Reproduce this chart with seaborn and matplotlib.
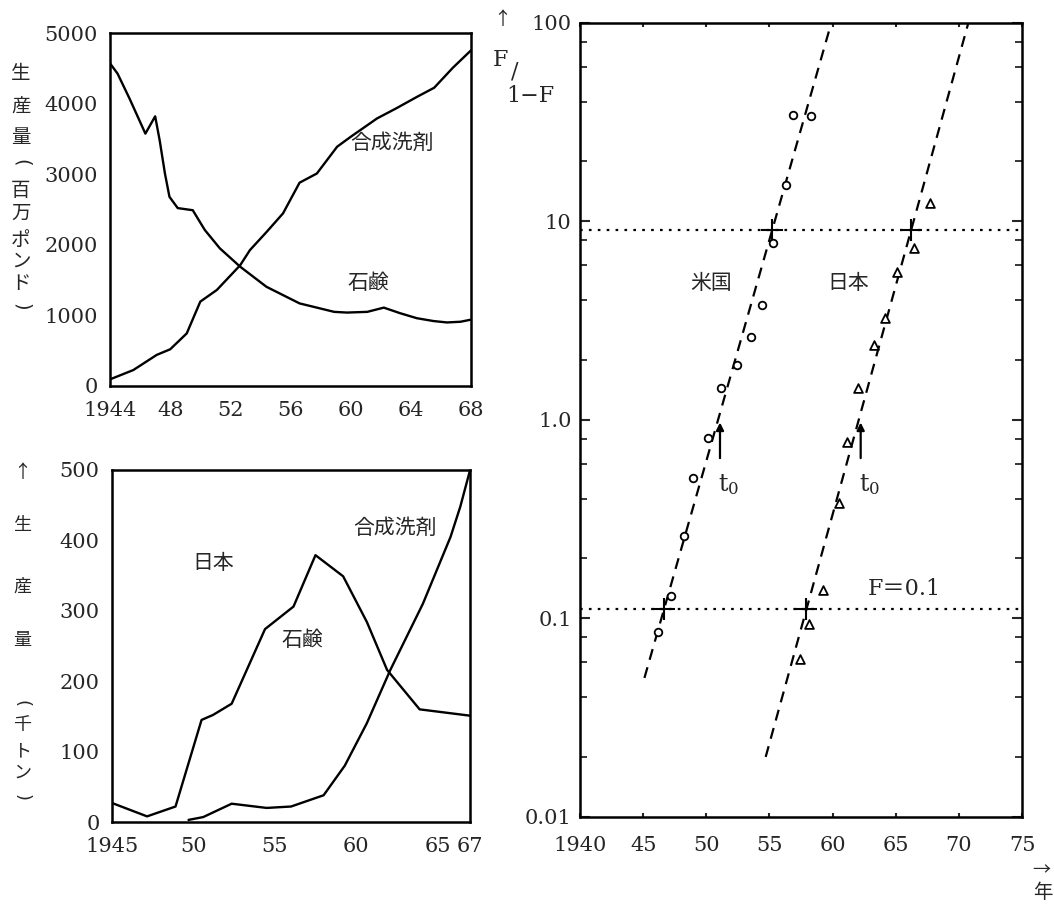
import numpy as np
import pandas as pd
import matplotlib
matplotlib.use("Agg")
import matplotlib.pyplot as plt
import seaborn as sns

# --- US production (million lb) ---
us_soap_year = [1944, 1944.5, 1945.3, 1946.35, 1947.0, 1947.3, 1947.65, 1947.95, 1948.5,
                1949.5, 1950.3, 1951.3, 1952.65, 1954.4, 1956.6, 1958.9, 1959.75, 1961.1,
                1962.2, 1963.3, 1964.4, 1965.5, 1966.4, 1967.3, 1968]
us_soap = [4570, 4425, 4070, 3575, 3820, 3480, 3010, 2680, 2520, 2490, 2210, 1950, 1690,
           1405, 1170, 1050, 1040, 1050, 1110, 1030, 960, 920, 900, 910, 940]
us_det_year = [1944, 1945.55, 1947.1, 1948, 1949.1, 1950, 1951.1, 1952.65, 1953.3, 1954.4,
               1955.5, 1956.6, 1957.75, 1959.1, 1960, 1961.75, 1963, 1964.4, 1965.55,
               1966.8, 1968]
us_det = [94, 226, 440, 520, 745, 1195, 1360, 1710, 1925, 2180, 2445, 2880, 3010, 3390,
          3530, 3790, 3930, 4095, 4225, 4510, 4755]
us_xticks = [1944, 1948, 1952, 1956, 1960, 1964, 1968]
us_xlabels = ["1944", "48", "52", "56", "60", "64", "68"]

# --- Japan production (thousand t), bottom-left panel ---
jp_soap_year = [1945, 1947.15, 1948.9, 1950.5, 1951.2, 1952.35, 1954.4, 1956.15, 1957.5,
                1959.2, 1960.66, 1961.9, 1963.9, 1967]
jp_soap = [27, 8, 22, 145, 152, 168, 274, 306, 379, 349, 284, 216, 160, 151]
jp_det_year = [1949.7, 1950.6, 1952.35, 1954.5, 1956, 1958, 1959.3, 1960.65, 1962.1,
               1963.1, 1964.1, 1965.8, 1966.4, 1967]
jp_det = [3, 7, 26, 20, 22, 38, 80, 140, 216, 263, 310, 405, 448, 500]
jp_xticks = [1945, 1950, 1955, 1960, 1965, 1967]
jp_xlabels = ["1945", "50", "55", "60", "65", "67"]

# --- Fisher-Pry plot F/(1-F), right panel ---
us_pt_year = [1946.2, 1947.2, 1948.23, 1948.97, 1950.16, 1951.16, 1952.46, 1953.5, 1954.38,
              1955.3, 1956.29, 1956.84, 1958.27]
us_pt_ratio = [0.085, 0.13, 0.26, 0.51, 0.81, 1.45, 1.89, 2.62, 3.78, 7.74, 15.2, 34.3, 34.0]
jp_pt_year = [1957.42, 1958.16, 1959.2, 1960.53, 1961.1, 1962.04, 1963.28, 1964.15, 1965.08,
              1966.47, 1967.71]
jp_pt_ratio = [0.062, 0.093, 0.139, 0.38, 0.77, 1.44, 2.38, 3.24, 5.57, 7.3, 12.3]
us_fit_year = [1945.1, 1959.9]
us_fit_ratio = [0.05, 100]
jp_fit_year = [1954.7, 1970.75]
jp_fit_ratio = [0.02, 100]
f_levels = [0.1, 0.9]
fp_xticks = [1940, 1945, 1950, 1955, 1960, 1965, 1970, 1975]
fp_xlabels = ["1940", "45", "50", "55", "60", "65", "70", "75"]
fp_yticks = [0.01, 0.1, 1, 10, 100]
fp_ylabels = ["0.01", "0.1", "1.0", "10", "100"]

sns.set_theme(style="white")
plt.rcParams["font.family"] = ["DejaVu Serif", "Noto Sans CJK JP"]
plt.rcParams["mathtext.fontset"] = "dejavuserif"
JP = ["Noto Sans CJK JP", "DejaVu Sans"]
W, H = 1054, 905


def px(x, y):
    return x / W, 1 - y / H


fig = plt.figure(figsize=(10.54, 9.05), dpi=100)
ax1 = fig.add_axes([0.1044, 0.5735, 0.3425, 0.39])
ax2 = fig.add_axes([0.1063, 0.0917, 0.3397, 0.389])
ax3 = fig.add_axes([0.5503, 0.0976, 0.4194, 0.8773])

us_df = pd.concat([
    pd.DataFrame({"year": us_soap_year, "value": us_soap, "kind": "石鹸"}),
    pd.DataFrame({"year": us_det_year, "value": us_det, "kind": "合成洗剤"}),
])
jp_df = pd.concat([
    pd.DataFrame({"year": jp_soap_year, "value": jp_soap, "kind": "石鹸"}),
    pd.DataFrame({"year": jp_det_year, "value": jp_det, "kind": "合成洗剤"}),
])
pal = {"石鹸": "black", "合成洗剤": "black"}

sns.lineplot(data=us_df, x="year", y="value", hue="kind", palette=pal, estimator=None,
             lw=1.7, legend=False, ax=ax1)
sns.lineplot(data=jp_df, x="year", y="value", hue="kind", palette=pal, estimator=None,
             lw=1.7, legend=False, ax=ax2)

ax1.set_xlim(1944, 1968)
ax1.set_ylim(0, 5000)
ax1.set_xticks(us_xticks, us_xlabels)
ax1.set_yticks(range(0, 5001, 1000))
ax1.text(1962.75, 3440, "合成洗剤", family=JP, fontsize=15, ha="center", va="center")
ax1.text(1961.15, 1460, "石鹸", family=JP, fontsize=15, ha="center", va="center")

ax2.set_xlim(1945, 1967)
ax2.set_ylim(0, 500)
ax2.set_xticks(jp_xticks, jp_xlabels)
ax2.set_yticks(range(0, 501, 100))
ax2.text(1962.4, 418, "合成洗剤", family=JP, fontsize=15, ha="center", va="center")
ax2.text(1951.2, 368, "日本", family=JP, fontsize=15, ha="center", va="center")
ax2.text(1956.7, 258, "石鹸", family=JP, fontsize=15, ha="center", va="center")

for ax in (ax1, ax2):
    ax.set_xlabel("")
    ax.set_ylabel("")
    ax.tick_params(direction="in", length=3, width=1.5, labelsize=15, pad=9)
    ax.tick_params(axis="x", pad=11)
    for s in ax.spines.values():
        s.set_linewidth(1.8)
        s.set_color("black")

# right panel
fit_df = pd.concat([
    pd.DataFrame({"year": us_fit_year, "ratio": us_fit_ratio, "c": "us"}),
    pd.DataFrame({"year": jp_fit_year, "ratio": jp_fit_ratio, "c": "jp"}),
])
ax3.set_yscale("log")
sns.lineplot(data=fit_df, x="year", y="ratio", units="c", estimator=None, color="black",
             lw=1.6, ls=(0, (5, 3.5)), ax=ax3)
sns.scatterplot(x=us_pt_year, y=us_pt_ratio, marker="o", s=30, facecolor="white",
                edgecolor="black", linewidth=1.3, ax=ax3, zorder=3)
sns.scatterplot(x=jp_pt_year, y=jp_pt_ratio, marker="^", s=40, facecolor="white",
                edgecolor="black", linewidth=1.3, ax=ax3, zorder=3)

for f in f_levels:
    r = f / (1 - f)
    ax3.axhline(r, color="black", lw=1.6, ls=(0, (1.2, 2.8)))
    for fy, fr in ((us_fit_year, us_fit_ratio), (jp_fit_year, jp_fit_ratio)):
        xc = np.interp(np.log10(r), np.log10(fr), fy)
        ax3.plot(xc, r, marker="+", color="black", ms=16, mew=1.5)

for fy, fr in ((us_fit_year, us_fit_ratio), (jp_fit_year, jp_fit_ratio)):
    t0 = np.interp(0.0, np.log10(fr), fy) + 0.15
    ax3.annotate("", xy=(t0, 1.0), xytext=(t0, 0.62),
                 arrowprops=dict(arrowstyle="-|>", color="black", lw=1.6, mutation_scale=11))
    ax3.text(t0 + 0.7, 0.47, r"$\mathrm{t_0}$", fontsize=17, ha="center", va="center")

ax3.text(1950.4, 4.9, "米国", family=JP, fontsize=15, ha="center", va="center")
ax3.text(1961.2, 4.9, "日本", family=JP, fontsize=15, ha="center", va="center")
ax3.text(1965.7, 0.14, "F＝0.1", fontsize=16, ha="center", va="center",
         family=["DejaVu Serif", "Noto Sans CJK JP"])

ax3.set_xlim(1940, 1975)
ax3.set_ylim(0.01, 100)
ax3.set_xticks(fp_xticks, fp_xlabels)
ax3.set_yticks(fp_yticks, fp_ylabels)
ax3.yaxis.set_minor_locator(matplotlib.ticker.LogLocator(base=10, subs=[2, 4, 6, 8]))
ax3.yaxis.set_minor_formatter(matplotlib.ticker.NullFormatter())
ax3.set_xlabel("")
ax3.set_ylabel("")
ax3.tick_params(axis="y", which="major", direction="in", length=7, width=1.5,
                left=True, right=True, labelsize=15, pad=6)
ax3.tick_params(axis="y", which="minor", direction="in", length=5, width=1.3,
                left=True, right=True)
ax3.tick_params(axis="x", direction="in", length=3, width=1.5, top=True, bottom=True,
                labelsize=15, pad=14)
for s in ax3.spines.values():
    s.set_linewidth(1.8)
    s.set_color("black")


# stacked vertical axis labels; brackets turned to their vertical form
def vlabel(chars, ys, x, size=14):
    for ch, y in zip(chars, ys):
        if ch in "()":
            fig.text(*px(x, y), ch, family="DejaVu Sans", fontsize=size, ha="center",
                     va="center", rotation=-90, rotation_mode="anchor")
        else:
            fig.text(*px(x, y), ch, family=JP, fontsize=size, ha="center", va="center")


vlabel("生産量(百万ポンド)", [73, 107, 137, 163, 190, 213, 240, 261, 283, 307], 21)
vlabel("↑生産量(千トン)", [473, 525, 587, 640, 703, 725, 751, 773, 797], 22, size=13)

fig.text(*px(502, 20), "↑", family=JP, fontsize=13, ha="center", va="center")
fig.text(*px(500, 60), "F", fontsize=16, ha="center", va="center")
fig.text(*px(515, 71), "/", fontsize=16, ha="center", va="center")
fig.text(*px(530, 96), "1−F", fontsize=16, ha="center", va="center")
fig.text(*px(1041, 870), "→", family=JP, fontsize=13, ha="center", va="center")
fig.text(*px(1043, 892), "年", family=JP, fontsize=14, ha="center", va="center")

fig.savefig("out.png", dpi=100, facecolor="white")
